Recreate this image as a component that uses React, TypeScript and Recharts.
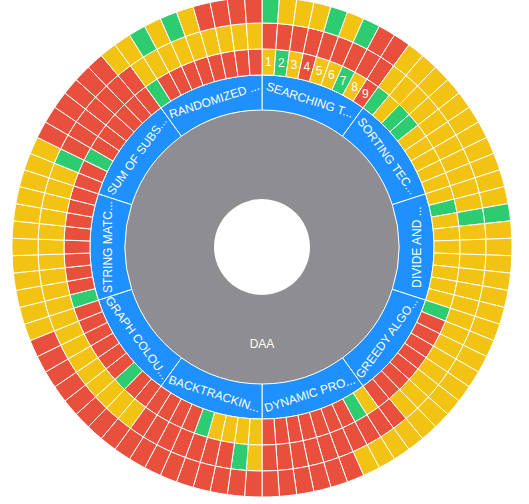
import React from 'react';
import { PieChart, Pie, Cell } from 'recharts';

// topic names as shown in the blue ring (clockwise from 12 o'clock)
const topics = [
  'SEARCHING T...',
  'SORTING TEC...',
  'DIVIDE AND ...',
  'GREEDY ALGO...',
  'DYNAMIC PRO...',
  'BACKTRACKIN...',
  'GRAPH COLOU...',
  'STRING MATC...',
  'SUM OF SUBS...',
  'RANDOMIZED ...',
];

const questionNumbers = ['1', '2', '3', '4', '5', '6', '7', '8', '9'];

// answer status per question, R = wrong, Y = partial, G = correct
const innerRing = [
  'YGYRYYGYR',
  'GYGGYYYYY',
  'YGYYYYYYY',
  'GRRRRRRRR',
  'YGRRRRRRR',
  'YYYYGRRRR',
  'RRGRRRRRR',
  'GRRRRRRRR',
  'RRGRRRRRR',
  'GRRRRRRRR',
];

const middleRing = [
  'RRRRRRRRR',
  'YYYYYYYYY',
  'YYGYYYYYY',
  'YYYYYYYYR',
  'RRRRRRRRR',
  'YGRRRRRRR',
  'YYYYYYYYY',
  'YYYYYYYYY',
  'YGRRRRRRR',
  'YYYYYYYYY',
];

const outerRing = [
  'GYYYGYGRR',
  'YYYYYYYYY',
  'YYGYYYYYY',
  'YYYYYYYYY',
  'YYYRRRRRR',
  'RRRRRRRRR',
  'RRRRRRRRY',
  'YYYYYYYYY',
  'YYRRRRRRY',
  'YGYGYRRRR',
];

const statusColors: Record<string, string> = {
  R: '#e8503d',
  Y: '#f2c313',
  G: '#2ecc71',
};

const CX = 262;
const CY = 247;

const toCells = (ring: string[]) =>
  topics.flatMap((topic, ti) =>
    ring[ti].split('').map((s, qi) => ({
      name: `${topic} Q${qi + 1}`,
      value: 1,
      status: s,
    }))
  );

const rootData = [{ name: 'DAA', value: topics.length * questionNumbers.length }];
const topicData = topics.map((t) => ({ name: t, value: questionNumbers.length }));

// keeps tangential text readable (never upside down)
const readableAngle = (theta: number) => {
  let r = theta % 360;
  if (r > 180) r -= 360;
  if (r >= 90) r -= 180;
  if (r < -90) r += 180;
  return r;
};

const polar = (r: number, theta: number) => {
  const rad = (theta * Math.PI) / 180;
  return { x: CX + r * Math.sin(rad), y: CY - r * Math.cos(rad) };
};

const rootLabel = (props: any) => {
  const r = (props.innerRadius + props.outerRadius) / 2 + 4;
  const theta = 90 - props.midAngle;
  const p = polar(r, theta);
  return (
    <text x={p.x} y={p.y} fill="#fff" fontSize={12} textAnchor="middle" dominantBaseline="central">
      DAA
    </text>
  );
};

const topicLabel = (props: any) => {
  const r = (props.innerRadius + props.outerRadius) / 2;
  const theta = 90 - props.midAngle;
  const p = polar(r, theta);
  return (
    <text
      x={p.x}
      y={p.y}
      fill="#fff"
      fontSize={12}
      textAnchor="middle"
      dominantBaseline="central"
      transform={`rotate(${readableAngle(theta)} ${p.x} ${p.y})`}
    >
      {topics[props.index]}
    </text>
  );
};

const numberLabel = (props: any) => {
  if (props.index >= questionNumbers.length) return null;
  const r = (props.innerRadius + props.outerRadius) / 2;
  const theta = 90 - props.midAngle;
  const p = polar(r, theta);
  return (
    <text x={p.x} y={p.y} fill="#fff" fontSize={12} textAnchor="middle" dominantBaseline="central">
      {questionNumbers[props.index]}
    </text>
  );
};

const rings = [
  { key: 'inner', data: toCells(innerRing), inner: 172, outer: 198, label: numberLabel },
  { key: 'middle', data: toCells(middleRing), inner: 198, outer: 224, label: undefined },
  { key: 'outer', data: toCells(outerRing), inner: 224, outer: 250, label: undefined },
];

export default function App() {
  return (
    <div
      style={{
        position: 'absolute',
        left: 0,
        top: 0,
        width: 529,
        height: 504,
        background: '#fff',
        fontFamily: '"Liberation Sans", Arial, sans-serif',
      }}
    >
      <PieChart width={529} height={504} margin={{ top: 0, right: 0, bottom: 0, left: 0 }}>
        <Pie
          data={rootData}
          dataKey="value"
          cx={CX}
          cy={CY}
          innerRadius={48}
          outerRadius={137}
          startAngle={90}
          endAngle={-270}
          fill="#8e8d91"
          stroke="none"
          label={rootLabel}
          labelLine={false}
          isAnimationActive={false}
        />
        <Pie
          data={topicData}
          dataKey="value"
          cx={CX}
          cy={CY}
          innerRadius={137}
          outerRadius={172}
          startAngle={90}
          endAngle={-270}
          fill="#1e90ff"
          stroke="#fff"
          strokeWidth={1}
          label={topicLabel}
          labelLine={false}
          isAnimationActive={false}
        />
        {rings.map((ring) => (
          <Pie
            key={ring.key}
            data={ring.data}
            dataKey="value"
            cx={CX}
            cy={CY}
            innerRadius={ring.inner}
            outerRadius={ring.outer}
            startAngle={90}
            endAngle={-270}
            stroke="#fff"
            strokeWidth={1}
            label={ring.label}
            labelLine={false}
            isAnimationActive={false}
          >
            {ring.data.map((d, i) => (
              <Cell key={`${ring.key}-${i}`} fill={statusColors[d.status]} />
            ))}
          </Pie>
        ))}
      </PieChart>
    </div>
  );
}
